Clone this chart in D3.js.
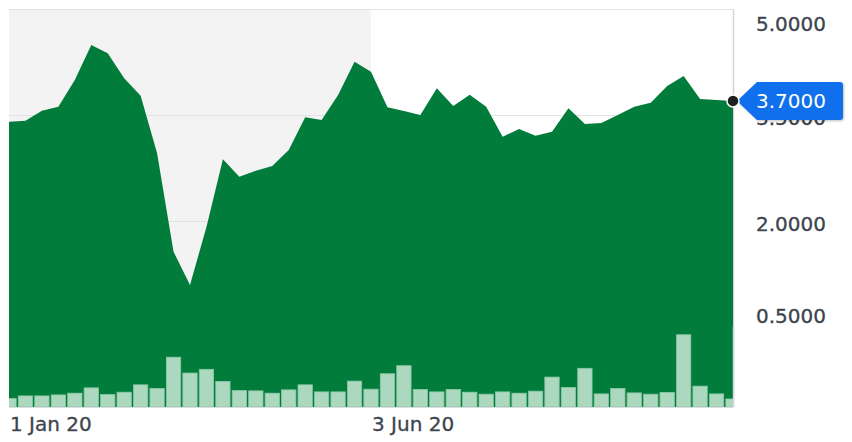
<!DOCTYPE html>
<html>
<head>
<meta charset="utf-8">
<script src="https://d3js.org/d3.v7.min.js"></script>
<style>
  html, body { margin: 0; padding: 0; background: #fff; }
  svg { display: block; }
  text { font-family: "DejaVu Sans", sans-serif; }
</style>
</head>
<body>
<svg id="chart" width="852" height="442"></svg>
<script>
// weekly closes from 1 Jan 2020
var startDate = "2020-01-01";
var prices = [3.405, 3.419, 3.561, 3.618, 3.997, 4.493, 4.376, 4.021, 3.774, 2.957,
              1.560, 1.088, 1.911, 2.871, 2.625, 2.710, 2.776, 3.003, 3.467, 3.429,
              3.784, 4.256, 4.115, 3.609, 3.557, 3.500, 3.879, 3.628, 3.788, 3.618,
              3.192, 3.301, 3.206, 3.263, 3.595, 3.372, 3.387, 3.500, 3.618, 3.675,
              3.912, 4.054, 3.727, 3.713, 3.700];
// volume, thousands
var volumes = [84, 110, 110, 120, 137, 190, 124, 147, 220, 184,
               494, 337, 374, 254, 164, 160, 137, 170, 220, 150,
               150, 257, 177, 330, 410, 174, 150, 174, 147, 127,
               150, 137, 157, 297, 194, 384, 130, 184, 140, 127,
               144, 717, 207, 130, 80];
var yTicks = [5.0, 3.5, 2.0, 0.5];
var xTickDates = ["2020-01-01", "2020-06-03"];
var shadeEnd = "2020-06-03";
var lastPrice = 3.70;

var svg = d3.select("svg"),
    width = +svg.attr("width"),
    height = +svg.attr("height");

var plotL = 9, plotR = 733, plotT = 9.3, plotB = 407;

var parse = d3.timeParse("%Y-%m-%d");
var start = parse(startDate);

var data = prices.map(function(p, i) {
    return { date: d3.timeWeek.offset(start, i), price: p, volume: volumes[i] };
});

var x = d3.scaleTime()
    .domain(d3.extent(data, function(d) { return d.date; }))
    .range([plotL, plotR]);

var y = d3.scaleLinear()
    .domain([0.5, 5.0])
    .range([326.4, plotT]);

var step = x(data[1].date) - x(data[0].date);
var barW = step * 0.87;

var vol = d3.scaleLinear()
    .domain([0, 800])
    .range([plotB, y(0.5)]);

svg.append("defs").append("clipPath")
    .attr("id", "plotclip")
    .append("rect")
    .attr("x", plotL)
    .attr("y", 0)
    .attr("width", plotR - plotL)
    .attr("height", plotB);

// shaded earlier period
svg.append("rect")
    .attr("x", plotL)
    .attr("y", plotT)
    .attr("width", x(parse(shadeEnd)) - plotL)
    .attr("height", plotB - plotT)
    .attr("fill", "#f3f3f3");

svg.selectAll(".grid")
    .data(yTicks)
    .enter()
    .append("line")
    .attr("class", "grid")
    .attr("x1", plotL)
    .attr("x2", plotR)
    .attr("y1", function(d) { return Math.round(y(d)) + 0.5; })
    .attr("y2", function(d) { return Math.round(y(d)) + 0.5; })
    .attr("stroke", "#e2e2e2")
    .attr("stroke-width", 1.2);

svg.append("line")
    .attr("x1", plotR + 0.5).attr("x2", plotR + 0.5)
    .attr("y1", plotT).attr("y2", plotB)
    .attr("stroke", "#d3d5dd")
    .attr("stroke-width", 1.5);

var area = d3.area()
    .x(function(d) { return x(d.date); })
    .y0(plotB)
    .y1(function(d) { return y(d.price); });

svg.append("path")
    .datum(data)
    .attr("d", area)
    .attr("fill", "#027c3b");

svg.append("g")
    .attr("clip-path", "url(#plotclip)")
    .selectAll(".bar")
    .data(data)
    .enter()
    .append("rect")
    .attr("class", "bar")
    .attr("x", function(d) { return x(d.date) - barW / 2; })
    .attr("y", function(d) { return vol(d.volume); })
    .attr("width", barW)
    .attr("height", function(d) { return plotB - vol(d.volume); })
    .attr("fill", "#abd8bf")
    .attr("stroke", "#8ac9a4")
    .attr("stroke-width", 0.8);

svg.append("line")
    .attr("x1", plotR + 0.5).attr("x2", plotR + 0.5)
    .attr("y1", y(0.5)).attr("y2", plotB)
    .attr("stroke", "#d3d5dd")
    .attr("stroke-width", 1.5);

svg.append("line")
    .attr("x1", plotL).attr("x2", plotR)
    .attr("y1", plotB + 0.5).attr("y2", plotB + 0.5)
    .attr("stroke", "#d9dde3")
    .attr("stroke-width", 1);

// y labels
svg.selectAll(".ylab")
    .data(yTicks)
    .enter()
    .append("text")
    .attr("class", "ylab")
    .attr("x", 756)
    .attr("y", function(d) { return Math.min(Math.max(y(d) + 3, 23.5), 316); })
    .attr("dy", "0.36em")
    .attr("font-size", 20)
    .attr("fill", "#3d444c")
    .attr("stroke", "#3d444c")
    .attr("stroke-width", 0.3)
    .text(function(d) { return d3.format(".4f")(d); });

// x labels
var fmt = d3.timeFormat("%-d %b %y");
svg.selectAll(".xlab")
    .data(xTickDates.map(parse))
    .enter()
    .append("text")
    .attr("class", "xlab")
    .attr("x", function(d) { return x(d) + 1; })
    .attr("y", 431)
    .attr("font-size", 20)
    .attr("fill", "#3d444c")
    .attr("stroke", "#3d444c")
    .attr("stroke-width", 0.3)
    .text(function(d) { return fmt(d); });

// last price tag
var ly = y(lastPrice);
var tag = svg.append("g");
tag.append("path")
    .attr("d", "M" + (plotR + 4) + "," + ly +
               " L757," + (ly - 19) +
               " L840," + (ly - 19) +
               " Q843," + (ly - 19) + " 843," + (ly - 16) +
               " L843," + (ly + 16) +
               " Q843," + (ly + 19) + " 840," + (ly + 19) +
               " L757," + (ly + 19) + " Z")
    .attr("fill", "#0f6fec")
    .style("filter", "drop-shadow(1px 1px 1px rgba(0,0,0,0.25))");
tag.append("text")
    .attr("x", 756)
    .attr("y", ly)
    .attr("dy", "0.36em")
    .attr("font-size", 20)
    .attr("fill", "#fff")
    .text(d3.format(".4f")(lastPrice));

svg.append("circle")
    .attr("cx", plotR)
    .attr("cy", y(prices[prices.length - 1]))
    .attr("r", 6)
    .attr("fill", "#1f1f1f")
    .attr("stroke", "#fff")
    .attr("stroke-width", 1.5);
</script>
</body>
</html>
